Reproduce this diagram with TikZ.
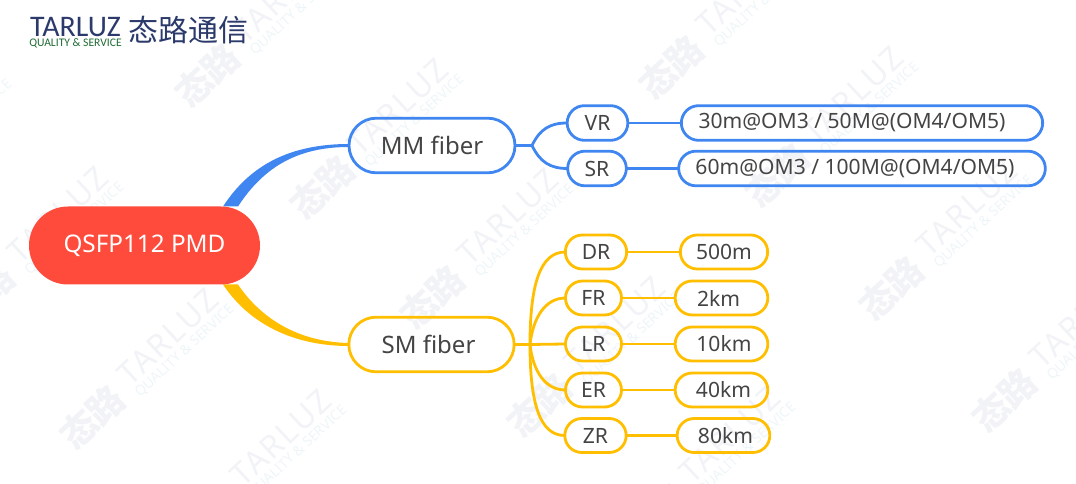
\documentclass[tikz,border=0pt]{standalone}
\usepackage{fontspec}
\setmainfont{Noto Sans}
\newfontfamily\cjk{Noto Sans CJK SC}
\newfontfamily\logofont{Carlito}
\newfontfamily\wmfont[LetterSpace=6]{Noto Sans}
\usetikzlibrary{shapes.misc,calc,backgrounds}
\definecolor{rootred}{HTML}{FF4B3C}
\definecolor{mmblue}{HTML}{4086F0}
\definecolor{smyellow}{HTML}{FFBF00}
\definecolor{txtgray}{HTML}{444444}
\definecolor{logonavy}{HTML}{2B3A6B}
\definecolor{logogreen}{HTML}{1F6B33}
\definecolor{wmgray}{HTML}{F1F3F7}
\definecolor{wmpale}{HTML}{EEF5F8}
\tikzstyle{pill} = [draw, rounded rectangle, line width=2.1pt, inner sep=0pt, outer sep=0pt, text=txtgray, font=\fontsize{15.8}{18}\selectfont]
\tikzstyle{mmpill} = [pill, draw=mmblue]
\tikzstyle{smpill} = [pill, draw=smyellow]
\tikzstyle{mmline} = [draw=mmblue, line width=2.1pt]
\tikzstyle{smline} = [draw=smyellow, line width=2.1pt]

\begin{document}
\begin{tikzpicture} [x=0.75pt,y=-0.75pt]

		\useasboundingbox (0,0) rectangle (1076,484);

		\node [logonavy,font=\logofont\fontsize{22.4}{24}\selectfont,inner sep=0pt] (logoname) at (75.5,27.5) {TARLUZ};
		\node [logogreen,font=\logofont\fontsize{8.7}{10}\selectfont,inner sep=0pt] (logotag) at (75.5,43) {QUALITY \& SERVICE};
		\node [logonavy,font=\cjk\fontsize{22.5}{24}\selectfont,inner sep=0pt] (logocn) at (188,30) {态路通信};

		\node [fill=rootred,rounded rectangle,minimum width=231*0.75pt,minimum height=78*0.75pt,inner sep=0pt,outer sep=0pt,text=white,font=\fontsize{18.2}{22}\selectfont] (root) at (144.5,245.5) {QSFP112 PMD};

		\node [mmpill,minimum width=124.5pt,minimum height=41pt,font=\fontsize{18}{22}\selectfont] (mm) at (432,145.5) {MM fiber};
		\node [smpill,minimum width=124pt,minimum height=41pt,font=\fontsize{18}{22}\selectfont] (sm) at (431.5,344.5) {SM fiber\hspace*{4.5pt}};

		\node [mmpill,minimum width=45.5pt,minimum height=26pt] (vr) at (597.5,123) {VR};
		\node [mmpill,minimum width=44pt,minimum height=26pt] (sr) at (597,168.5) {SR};
		\node [mmpill,minimum width=271pt,minimum height=26pt] (vrval) at (862,123) {30m@OM3 / 50M@(OM4/OM5)\hspace*{15pt}};
		\node [mmpill,minimum width=275pt,minimum height=26pt] (srval) at (862,168.5) {60m@OM3 / 100M@(OM4/OM5)\hspace*{10.5pt}};

		\node [smpill,minimum width=46pt,minimum height=25.5pt] (dr) at (596,252) {DR};
		\node [smpill,minimum width=42pt,minimum height=25.5pt] (fr) at (593.5,298) {FR};
		\node [smpill,minimum width=42pt,minimum height=25.5pt] (lr) at (593.5,344) {LR};
		\node [smpill,minimum width=42pt,minimum height=25.5pt] (er) at (593.5,390) {ER};
		\node [smpill,minimum width=46pt,minimum height=25.5pt] (zr) at (595.5,435.5) {ZR};

		\node [smpill,minimum width=65.5pt,minimum height=25.5pt] (drval) at (724,252) {500m};
		\node [smpill,minimum width=69.5pt,minimum height=25.5pt] (frval) at (721.5,298) {2km\hspace*{4.5pt}};
		\node [smpill,minimum width=69.5pt,minimum height=25.5pt] (lrval) at (721.5,344) {\hspace*{3.7pt}10km};
		\node [smpill,minimum width=69.5pt,minimum height=25.5pt] (erval) at (721.5,390) {\hspace*{3pt}40km};
		\node [smpill,minimum width=69.5pt,minimum height=25.5pt] (zrval) at (723.5,435.5) {\hspace*{3pt}80km};

		\coordinate (mmfork) at (532,145.5);
		\coordinate (smfork) at (530,344.5);

		\draw [mmline] (mm.east) -- (mmfork);
		\draw [mmline] (mmfork) .. controls (540,129) and (550,123) .. (vr.west);
		\draw [mmline] (mmfork) .. controls (540,162) and (550,168.5) .. (sr.west);
		\draw [mmline] (vr.east) -- (vrval.west);
		\draw [mmline] (sr.east) -- (srval.west);

		\draw [smline] (sm.east) -- (smfork);
		\draw [smline] (smfork) .. controls (530,285) and (540,252) .. (dr.west);
		\draw [smline] (smfork) .. controls (533,318) and (545,298) .. (fr.west);
		\draw [smline] (smfork) -- (lr.west);
		\draw [smline] (smfork) .. controls (533,371) and (545,390) .. (er.west);
		\draw [smline] (smfork) .. controls (530,404) and (540,435.5) .. (zr.west);

		\foreach \a/\b in {dr/drval,fr/frval,lr/lrval,er/erval,zr/zrval}
			\draw [smline] (\a.east) -- (\b.west);

		\begin{pgfonlayer}{background}
			\foreach \wx/\wy [count=\wi] in {-134/192,-22/295,88/417,201/518,203/75,318/187,428/297,535/405,650/515,667/67,773/175,887/288,1000/400} {
				\node [wmgray,rotate=43,inner sep=0pt,font=\cjk\bfseries\fontsize{27}{29}\selectfont] (wmcn\wi) at (\wx+4,\wy) {态路};
				\node [wmgray,rotate=43,inner sep=0pt,font=\wmfont\fontsize{24}{26}\selectfont] (wmname\wi) at ($(\wx,\wy)+(80,-80)$) {TARLUZ};
				\node [wmpale,rotate=43,inner sep=0pt,font=\fontsize{10.5}{12}\selectfont] (wmtag\wi) at ($(\wx,\wy)+(97,-66)$) {QUALITY \& SERVICE};
			}
			\fill [mmblue] ($(root.north)+(78.5,0)$) .. controls (250,165) and (290,144) .. ($(mm.west)+(0,-1.5)$) -- ($(mm.west)+(0,1.5)$) .. controls (300,147) and (265,165) .. ($(root.north)+(93.5,0)$) -- cycle;
			\fill [smyellow] ($(root.south)+(78.5,0)$) .. controls (250,325) and (295,346) .. ($(sm.west)+(0,1.5)$) -- ($(sm.west)+(0,-1.5)$) .. controls (300,342) and (262,320) .. ($(root.south)+(93.5,0)$) -- cycle;
		\end{pgfonlayer}

\end{tikzpicture}
\end{document}
